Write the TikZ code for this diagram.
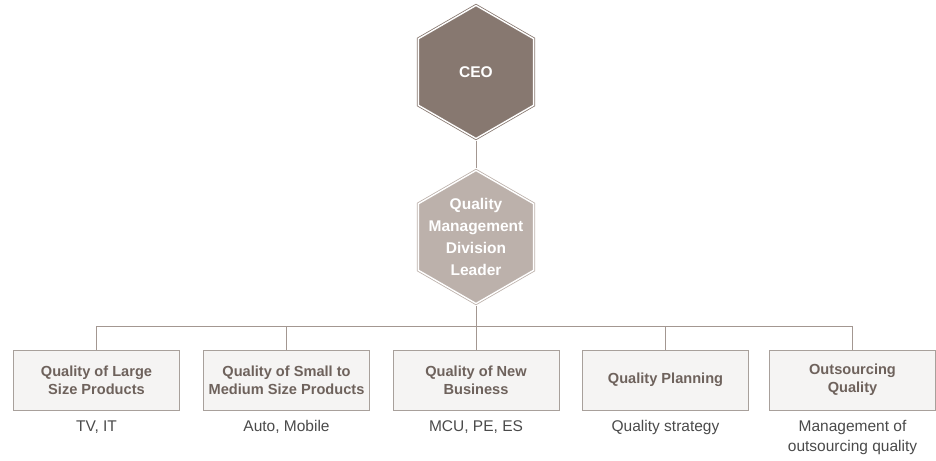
\documentclass[tikz,border=0pt]{standalone}
\usepackage{fontspec}
\setmainfont{Liberation Sans}
\usetikzlibrary{positioning,shapes.geometric}

\definecolor{ceofill}{HTML}{877870}
\definecolor{leadfill}{HTML}{BCB1AB}
\definecolor{wire}{HTML}{A39791}
\definecolor{boxfill}{HTML}{F5F4F3}
\definecolor{boxline}{HTML}{A8A09B}
\definecolor{boxtext}{HTML}{6E625C}
\definecolor{subtext}{HTML}{4A4A4A}

\begin{document}
\begin{tikzpicture}[
  x=1pt, y=-1pt,
  hexa/.style={regular polygon, regular polygon sides=6, shape border rotate=90,
    minimum size=133pt, inner sep=0pt, outer sep=2pt, line width=0.8pt, double=white, double distance=1.4pt},
  hextext/.style={text=white, font=\fontsize{15.5}{21.7}\selectfont\bfseries, align=center},
  unit/.style={rectangle, draw=boxline, fill=boxfill, line width=0.8pt, minimum width=166pt, minimum height=60pt,
    text=boxtext, font=\fontsize{14.6}{17.7}\selectfont\bfseries, align=center},
  duty/.style={text=subtext, font=\fontsize{15.5}{20}\selectfont, align=center, inner sep=2pt},
  wire/.style={draw=wire, line width=0.8pt}
]
\useasboundingbox (0,0) rectangle (936,460);

% top of the chart
\node [hexa, fill=ceofill, draw=ceofill, label={[hextext]center:CEO}] (ceo) at (476,72) {};
\node [hexa, fill=leadfill, draw=leadfill,
  label={[hextext]center:Quality\\Management\\Division\\Leader}] (lead) at (476,237) {};
\coordinate (bus) at (476,326);

% quality units
\node [unit] (large) at (96.5,380) {Quality of Large\\Size Products};
\node [unit] (small) at (286.5,380) {Quality of Small to\\Medium Size Products};
\node [unit] (new) at (476,380) {Quality of New\\Business};
\node [unit] (plan) at (665.5,380) {Quality Planning};
\node [unit] (outs) at (852.5,380) {Outsourcing\\Quality};

\node [duty, below=8pt of large] {TV, IT};
\node [duty, below=8pt of small] {Auto, Mobile};
\node [duty, below=8pt of new] {MCU, PE, ES};
\node [duty, below=8pt of plan] {Quality strategy};
\node [duty, below=8pt of outs] {Management of\\outsourcing quality};

% connectors
\draw [wire] (ceo) -- (lead);
\draw [wire] (lead.south) -- (bus);
\foreach \u in {large, small, new, plan, outs}
  \draw [wire] (\u.north) |- (bus);
\end{tikzpicture}
\end{document}
